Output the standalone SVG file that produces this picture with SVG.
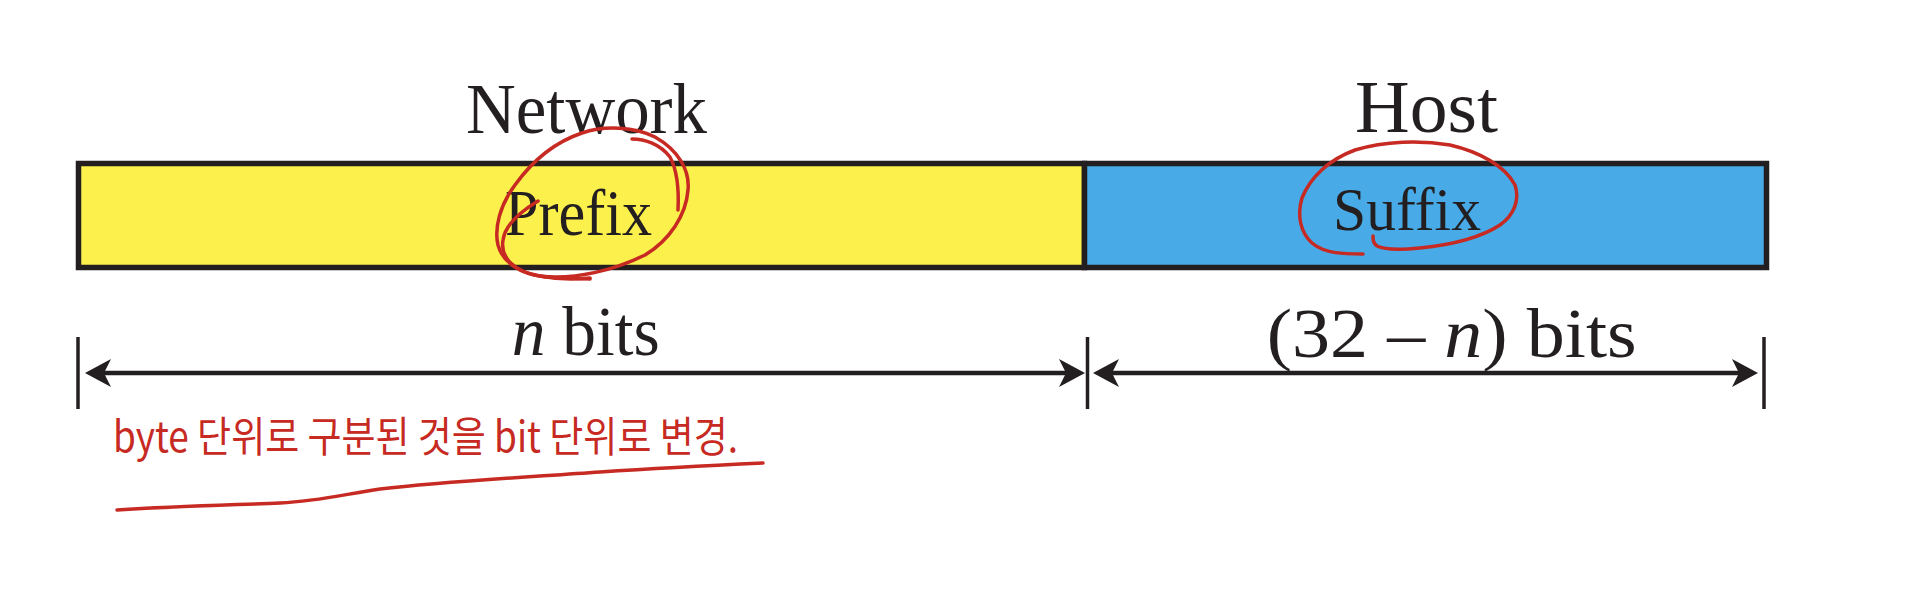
<svg xmlns="http://www.w3.org/2000/svg" width="1908" height="606" viewBox="0 0 1908 606">
<style>
.lbl{font-family:"Liberation Serif","Times New Roman",serif;fill:#231F20}
.box{stroke:#231F20;stroke-width:5.5}
.dim{stroke:#231F20;stroke-width:4.5;fill:none}
.tick{stroke:#231F20;stroke-width:3.5}
.ink{fill:none;stroke:#C62A22;stroke-width:3.5;stroke-linecap:round;stroke-linejoin:round}
.hand{font-family:"Noto Sans CJK KR","Noto Sans",sans-serif;fill:#C62A22;font-weight:400}
</style>
<defs>
<marker id="ah" markerUnits="userSpaceOnUse" viewBox="0 0 26 28" refX="16" refY="14" markerWidth="26" markerHeight="28" orient="auto-start-reverse">
<path d="M0,0 L26,14 L0,28 L7,14 Z" fill="#231F20"/>
</marker>
</defs>
<rect width="1908" height="606" fill="#ffffff"/>

<g id="node-network">
<text class="lbl" x="466" y="132.5" font-size="72" textLength="241" lengthAdjust="spacingAndGlyphs">Network</text>
<rect class="box" x="78.5" y="163.5" width="1006" height="104" fill="#FCF04C"/>
<text class="lbl" x="505" y="235" font-size="65" textLength="147" lengthAdjust="spacingAndGlyphs">Prefix</text>
</g>

<g id="node-host">
<text class="lbl" x="1355" y="131.7" font-size="75" textLength="143" lengthAdjust="spacingAndGlyphs">Host</text>
<rect class="box" x="1084.5" y="163.5" width="682" height="104" fill="#48AAE6"/>
<text class="lbl" x="1333" y="229.5" font-size="62" textLength="148" lengthAdjust="spacingAndGlyphs">Suffix</text>
</g>

<g id="connectors">
<line class="tick" x1="78" y1="337" x2="78" y2="409"/>
<line class="tick" x1="1087.5" y1="337" x2="1087.5" y2="409"/>
<line class="tick" x1="1764" y1="337" x2="1764" y2="409"/>
<line class="dim" x1="95" y1="373" x2="1075" y2="373" marker-start="url(#ah)" marker-end="url(#ah)"/>
<line class="dim" x1="1103" y1="373" x2="1748" y2="373" marker-start="url(#ah)" marker-end="url(#ah)"/>
<text class="lbl" x="511.7" y="355" font-size="69" textLength="148" lengthAdjust="spacingAndGlyphs"><tspan font-style="italic">n</tspan> bits</text>
<text class="lbl" x="1266.7" y="357" font-size="70" textLength="370" lengthAdjust="spacingAndGlyphs">(32 – <tspan font-style="italic">n</tspan>) bits</text>
</g>

<g id="annotations">
<path class="ink" d="M538,201 C520,212 505,225 503,240 C500,258 515,272 540,276 C560,280 580,279 590,278"/>
<path class="ink" d="M540,276 C575,280 615,270 645,255 C670,240 686,215 688,190 C690,170 678,150 655,137 C635,127 605,125 582,133 C555,142 533,160 515,185 C500,205 494,228 498,245 C503,263 520,274 545,277 L590,279"/>
<path class="ink" d="M632,139 C645,139 660,144 670,157 C677,170 679,190 678,210"/>
<path class="ink" d="M1363,254 C1345,254 1325,254 1312,243 C1300,232 1297,215 1302,198 C1310,178 1328,160 1355,150 C1385,141 1420,140 1450,145 C1480,152 1505,166 1515,185 C1520,200 1514,215 1500,225 C1480,238 1450,245 1420,248 C1400,250 1385,250 1377,246 C1373,243 1373,240 1373,236"/>
<text class="hand" x="113" y="452" font-size="42" textLength="625" lengthAdjust="spacingAndGlyphs">byte 단위로 구분된 것을 bit 단위로 변경.</text>
<path class="ink" d="M117,510 C180,506 230,505 280,503 C320,501 345,494 380,489 C450,481 530,477 600,472 C660,468 720,465 763,463" stroke-width="5"/>
</g>
</svg>
